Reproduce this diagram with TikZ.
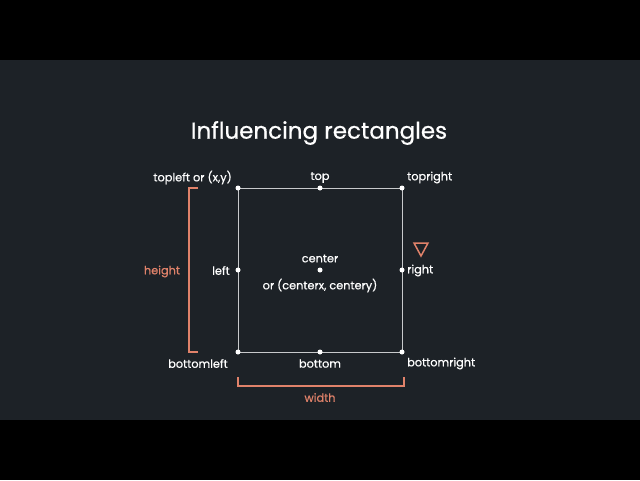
\documentclass[tikz,border=0pt]{standalone}
\usepackage{fontspec}
\setmainfont{Poppins}
\newfontfamily\medf[FakeBold=0.6]{Poppins}
\definecolor{bg}{HTML}{1D2227}
\definecolor{sal}{HTML}{E0826A}
\definecolor{ln}{HTML}{C8CACC}
\begin{document}
\begin{tikzpicture}[x=1pt,y=-1pt,
  lbl/.style={text=white,font=\medf\fontsize{11.3}{13}\selectfont,inner sep=0pt},
  slbl/.style={text=sal,font=\medf\fontsize{11.3}{13}\selectfont,inner sep=0pt},
  dot/.style={circle,fill=white,inner sep=0pt,minimum size=5pt},
  brk/.style={draw=sal,line width=1.6pt}]
\useasboundingbox (0,0) rectangle (640,480);
\fill[black] (0,0) rectangle (640,480);
\fill[bg] (0,60) rectangle (640,420);
\node[text=white,font=\medf\fontsize{23}{27}\selectfont,inner sep=0pt] (title) at (319,133) {Influencing rectangles};
\coordinate (tl) at (238,188);
\coordinate (br) at (402,352);
\draw[ln,line width=0.8pt] (tl) rectangle (br);
\node[dot] (dtl) at (238,188) {};
\node[dot] (dt) at (320,188) {};
\node[dot] (dtr) at (402,188) {};
\node[dot] (dl) at (238,270) {};
\node[dot] (dc) at (320,270) {};
\node[dot] (dr) at (402,270) {};
\node[dot] (dbl) at (238,352) {};
\node[dot] (db) at (320,352) {};
\node[dot] (dbr) at (402,352) {};
\node[lbl,anchor=east] (ltl) at (232,177.5) {topleft or (x,y)};
\node[lbl] (lt) at (320,177.5) {top};
\node[lbl,anchor=west] (ltr) at (407,177.5) {topright};
\node[lbl,anchor=east] (ll) at (230,270.5) {left};
\node[lbl,anchor=west] (lr) at (407,270.5) {right};
\node[lbl,anchor=east] (lbl) at (228,363.5) {bottomleft};
\node[lbl] (lb) at (320,363.5) {bottom};
\node[lbl,anchor=west] (lbr) at (407,363.5) {bottomright};
\node[lbl] (lc) at (320,258.5) {center};
\node[lbl] (lc2) at (320,285.5) {or (centerx, centery)};
% height bracket
\coordinate (h1) at (198,188);
\coordinate (h2) at (189,188);
\coordinate (h3) at (189,352);
\coordinate (h4) at (198,352);
\draw[brk] (h1) -- (h2) -- (h3) -- (h4);
\node[slbl] (lh) at (162,271.5) {height};
% width bracket
\coordinate (w1) at (238,377);
\coordinate (w2) at (238,386);
\coordinate (w3) at (404,386);
\coordinate (w4) at (404,377);
\draw[brk] (w1) -- (w2) -- (w3) -- (w4);
\node[slbl] (lw) at (320,397.5) {width};
% triangle
\coordinate (ta) at (414,243);
\coordinate (tb) at (428,243);
\coordinate (tc) at (421,256);
\draw[sal,line width=1.5pt,line join=miter] (ta) -- (tb) -- (tc) -- cycle;
\end{tikzpicture}
\end{document}
